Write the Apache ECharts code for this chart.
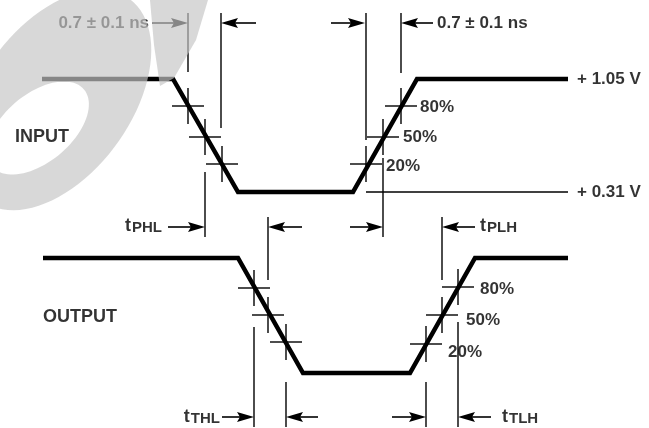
<!DOCTYPE html>
<html>
<head>
<meta charset="utf-8">
<script src="https://cdn.jsdelivr.net/npm/echarts@6/dist/echarts.min.js"></script>
<style>
  html, body { margin: 0; padding: 0; background: #fff; }
  #chart { width: 649px; height: 428px; }
</style>
</head>
<body>
<div id="chart"></div>
<script>
// ---- Data (drawing units: x = time, y = level) ----
const inputWave  = [[42, 79], [173, 79], [238, 192], [353, 192], [417, 79], [568, 79]];
const outputWave = [[43, 258], [238, 258], [303, 373], [410, 373], [475, 258], [568, 258]];

// 80 % / 50 % / 20 % crossing points on each edge
const inputCrossings  = [[188, 106], [205, 137], [222, 164], [366, 164], [383, 137], [401, 106]];
const outputCrossings = [[254, 288], [268, 315], [286, 342], [426, 344], [442, 315], [458, 287]];

// extension lines: [x, yFrom, yTo]
const extensionLines = [
  [188, 13, 72], [221, 13, 128], [205, 172, 237],
  [366, 13, 140], [383, 158, 237], [401, 13, 73],
  [254, 327, 427], [268, 217, 280], [286, 382, 427],
  [426, 382, 427], [442, 217, 280], [458, 322, 427]
];
// reference line for +0.31 V: [xFrom, y, xTo]
const referenceLine = [[366, 192, 568]];

// dimension arrows: [tipX, y, tailX]
const arrows = [
  [188, 23, 152], [221, 23, 256], [365, 23, 331], [401, 23, 433],
  [205, 227, 168], [268, 227, 302], [383, 227, 350], [442, 227, 475],
  [254, 417, 222], [286, 417, 318], [426, 417, 392], [458, 417, 491]
];

// text labels: [x, y, text, align, size]
const labels = [
  [149, 23, '0.7 ± 0.1 ns', 'right', 17],
  [437, 23, '0.7 ± 0.1 ns', 'left', 17],
  [577, 79, '+ 1.05 V', 'left', 17],
  [577, 192, '+ 0.31 V', 'left', 17],
  [15, 137, 'INPUT', 'left', 18],
  [43, 317, 'OUTPUT', 'left', 18],
  [420, 107, '80%', 'left', 17],
  [403, 137, '50%', 'left', 17],
  [386, 166, '20%', 'left', 17],
  [480, 289, '80%', 'left', 17],
  [466, 320, '50%', 'left', 17],
  [448, 352, '20%', 'left', 17]
];
// timing parameter labels: [x, y, subscript, align]
const timingLabels = [
  [162, 226, 'PHL', 'right'],
  [480, 226, 'PLH', 'left'],
  [220, 417, 'THL', 'right'],
  [502, 417, 'TLH', 'left']
];

// ---- Rendering ----
const FONT = '"Liberation Sans", Arial, Helvetica, sans-serif';
const INK = '#000';
const chart = echarts.init(document.getElementById('chart'), null, { renderer: 'canvas' });

// "OBSOLETE" stamp watermark (decoration only)
function ellipsePts(cx, cy, a, b, deg, n, reverse) {
  const th = deg * Math.PI / 180;
  const ux = Math.cos(th), uy = -Math.sin(th);
  const vx = Math.sin(th), vy = Math.cos(th);
  const pts = [];
  for (let i = 0; i <= n; i++) {
    const t = (reverse ? (n - i) : i) / n * Math.PI * 2;
    pts.push([cx + a * Math.cos(t) * ux + b * Math.sin(t) * vx,
              cy + a * Math.cos(t) * uy + b * Math.sin(t) * vy]);
  }
  return pts;
}
const ringPts = ellipsePts(56, 100, 125, 75, 54, 90, false)
  .concat(ellipsePts(38, 128, 60, 34, 40, 90, true));
const STAMP = 'rgba(198,198,198,0.68)';

const option = {
  backgroundColor: '#fff',
  animation: false,
  grid: { left: 0, right: 0, top: 0, bottom: 0 },
  xAxis: { type: 'value', min: 0, max: 649, show: false },
  yAxis: { type: 'value', min: 0, max: 428, inverse: true, show: false },
  graphic: [
    { type: 'polygon', z: 100, silent: true, shape: { points: ringPts }, style: { fill: STAMP } },
    { type: 'polygon', z: 100, silent: true,
      shape: { points: [[150, 0], [208, 0], [196, 40], [174, 78], [160, 86], [154, 45]] },
      style: { fill: STAMP } }
  ],
  series: [
    { type: 'line', data: inputWave, symbol: 'none', lineStyle: { color: INK, width: 4.5, join: 'miter' }, z: 5 },
    { type: 'line', data: outputWave, symbol: 'none', lineStyle: { color: INK, width: 4.5, join: 'miter' }, z: 5 },
    {
      type: 'custom', data: inputCrossings.concat(outputCrossings), z: 6,
      renderItem: function (params, api) {
        const p = api.coord([api.value(0), api.value(1)]);
        const st = { stroke: INK, lineWidth: 1.4 };
        return { type: 'group', children: [
          { type: 'line', shape: { x1: p[0] - 16, y1: p[1], x2: p[0] + 16, y2: p[1] }, style: st },
          { type: 'line', shape: { x1: p[0], y1: p[1] - 18, x2: p[0], y2: p[1] + 18 }, style: st }
        ] };
      }
    },
    {
      type: 'custom', data: extensionLines, z: 6,
      renderItem: function (params, api) {
        const a = api.coord([api.value(0), api.value(1)]);
        const b = api.coord([api.value(0), api.value(2)]);
        return { type: 'line', shape: { x1: a[0], y1: a[1], x2: b[0], y2: b[1] },
                 style: { stroke: INK, lineWidth: 1.4 } };
      }
    },
    {
      type: 'custom', data: referenceLine, z: 4,
      renderItem: function (params, api) {
        const a = api.coord([api.value(0), api.value(1)]);
        const b = api.coord([api.value(2), api.value(1)]);
        return { type: 'line', shape: { x1: a[0], y1: a[1], x2: b[0], y2: b[1] },
                 style: { stroke: INK, lineWidth: 1.3 } };
      }
    },
    {
      type: 'custom', data: arrows, z: 6,
      renderItem: function (params, api) {
        const tip = api.coord([api.value(0), api.value(1)]);
        const tail = api.coord([api.value(2), api.value(1)]);
        const d = tip[0] > tail[0] ? 1 : -1;
        const L = 17, W = 5;
        return { type: 'group', children: [
          { type: 'line', shape: { x1: tail[0], y1: tail[1], x2: tip[0] - d * 8, y2: tip[1] },
            style: { stroke: INK, lineWidth: 1.6 } },
          { type: 'polygon', shape: { points: [[tip[0], tip[1]], [tip[0] - d * L, tip[1] - W], [tip[0] - d * (L - 3), tip[1]], [tip[0] - d * L, tip[1] + W]] },
            style: { fill: INK } }
        ] };
      }
    },
    {
      type: 'scatter', symbolSize: 1, itemStyle: { color: 'rgba(0,0,0,0)' }, z: 7,
      data: labels.map(function (l) {
        return { value: [l[0], l[1]], label: { show: true, position: 'inside', formatter: l[2],
          align: l[3], verticalAlign: 'middle', color: INK, fontFamily: FONT, fontWeight: 'bold', fontSize: l[4] } };
      })
    },
    {
      type: 'scatter', symbolSize: 1, itemStyle: { color: 'rgba(0,0,0,0)' }, z: 7,
      data: timingLabels.map(function (l) {
        return { value: [l[0], l[1]], label: { show: true, position: 'inside',
          formatter: '{t|t}{s|' + l[2] + '}', align: l[3], verticalAlign: 'middle',
          rich: {
            t: { color: INK, fontFamily: FONT, fontWeight: 'bold', fontSize: 18, verticalAlign: 'bottom' },
            s: { color: INK, fontFamily: FONT, fontWeight: 'bold', fontSize: 15, verticalAlign: 'bottom', padding: [0, 0, 0, 1] }
          } } };
      })
    }
  ]
};
chart.setOption(option);
</script>
</body>
</html>
